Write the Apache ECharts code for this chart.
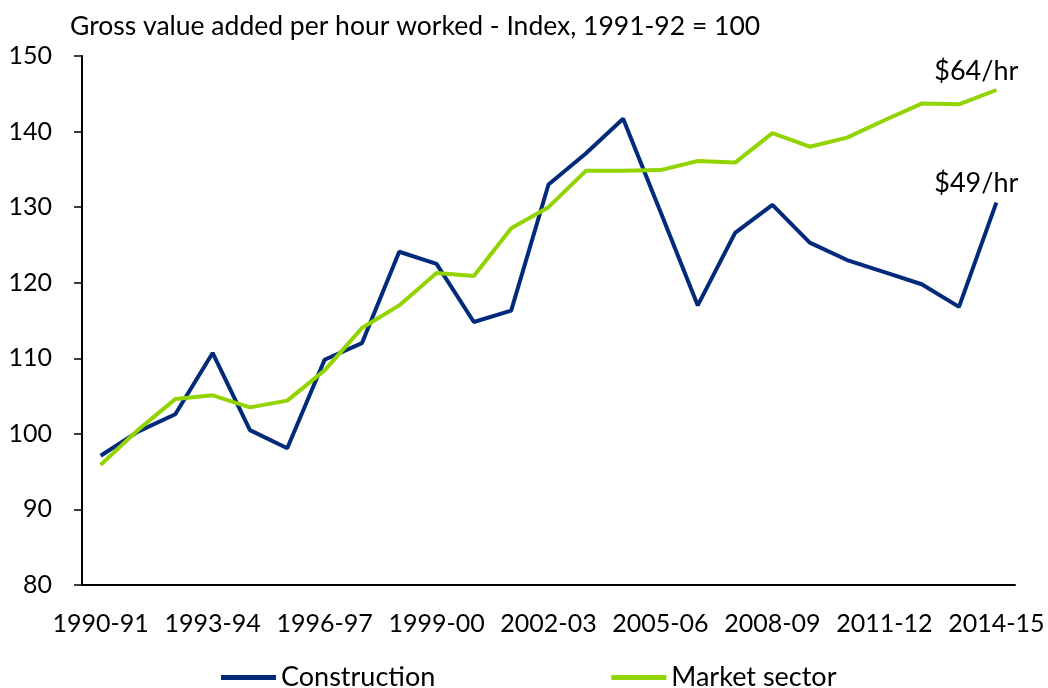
<!DOCTYPE html>
<html>
<head>
<meta charset="utf-8">
<script src="https://cdn.jsdelivr.net/npm/echarts@6/dist/echarts.min.js"></script>
<style>
  html, body { margin: 0; padding: 0; background: #fff; }
  #chart { width: 1048px; height: 688px; }
</style>
</head>
<body>
<div id="chart"></div>
<script>
// financial years on the x axis
var years = ['1990-91','1991-92','1992-93','1993-94','1994-95','1995-96','1996-97','1997-98',
  '1998-99','1999-00','2000-01','2001-02','2002-03','2003-04','2004-05','2005-06','2006-07',
  '2007-08','2008-09','2009-10','2010-11','2011-12','2012-13','2013-14','2014-15'];

// index values, 1991-92 = 100
var construction = [97.1, 100.3, 102.6, 110.7, 100.5, 98.1, 109.8, 112.0, 124.1, 122.5, 114.8,
  116.3, 133.0, 137.1, 141.7, 129.4, 117.0, 126.6, 130.3, 125.3, 123.0, 121.4, 119.8, 116.8, 130.6];
var marketSector = [95.9, 100.5, 104.6, 105.1, 103.5, 104.4, 108.4, 114.0, 117.0, 121.3, 120.9,
  127.2, 130.0, 134.8, 134.8, 134.9, 136.1, 135.9, 139.8, 138.0, 139.2, 141.5, 143.7, 143.6, 145.5];

var endLabels = ['$49/hr', '$64/hr'];

var myChart = echarts.init(document.getElementById('chart'));
var font = 'Lato, Calibri, sans-serif';

// label sitting above the last point of a line
function endLabel(txt) {
  return {
    show: true, formatter: txt, distance: 0,
    align: 'center', verticalAlign: 'middle', offset: [-20, -19],
    fontFamily: font, fontSize: 27, color: '#000'
  };
}

var option = {
  animation: false,
  title: {
    text: 'Gross value added per hour worked - Index, 1991-92 = 100',
    left: 65, top: 8,
    textStyle: { fontFamily: font, fontSize: 26.5, fontWeight: 'normal', color: '#000' }
  },
  grid: { left: 82, right: 33, top: 56, bottom: 103 },
  legend: {
    bottom: -8, left: 216,
    itemWidth: 55, itemHeight: 5, itemGap: 176,
    icon: 'rect',
    textStyle: { fontFamily: font, fontSize: 27, color: '#000' },
    data: ['Construction', 'Market sector']
  },
  xAxis: {
    type: 'category',
    data: years,
    boundaryGap: true,
    axisLine: { lineStyle: { color: '#000', width: 2 } },
    axisTick: { interval: 0, length: 8, lineStyle: { color: '#000', width: 1.5 } },
    axisLabel: { interval: 2, margin: 26, fontFamily: font, fontSize: 25, color: '#000' }
  },
  yAxis: {
    type: 'value',
    min: 80, max: 150, interval: 10,
    splitLine: { show: false },
    axisLine: { show: true, lineStyle: { color: '#000', width: 2 } },
    axisTick: { show: true, length: 8, lineStyle: { color: '#000', width: 1.5 } },
    axisLabel: { margin: 30, fontFamily: font, fontSize: 25, color: '#000' }
  },
  series: [
    {
      name: 'Construction', type: 'line', symbol: 'none',
      data: construction,
      endLabel: endLabel(endLabels[0]),
      lineStyle: { color: '#022a7a', width: 4 },
      itemStyle: { color: '#022a7a' }
    },
    {
      name: 'Market sector', type: 'line', symbol: 'none',
      data: marketSector,
      endLabel: endLabel(endLabels[1]),
      lineStyle: { color: '#92d400', width: 4 },
      itemStyle: { color: '#92d400' }
    }
  ]
};

myChart.setOption(option);
</script>
</body>
</html>
